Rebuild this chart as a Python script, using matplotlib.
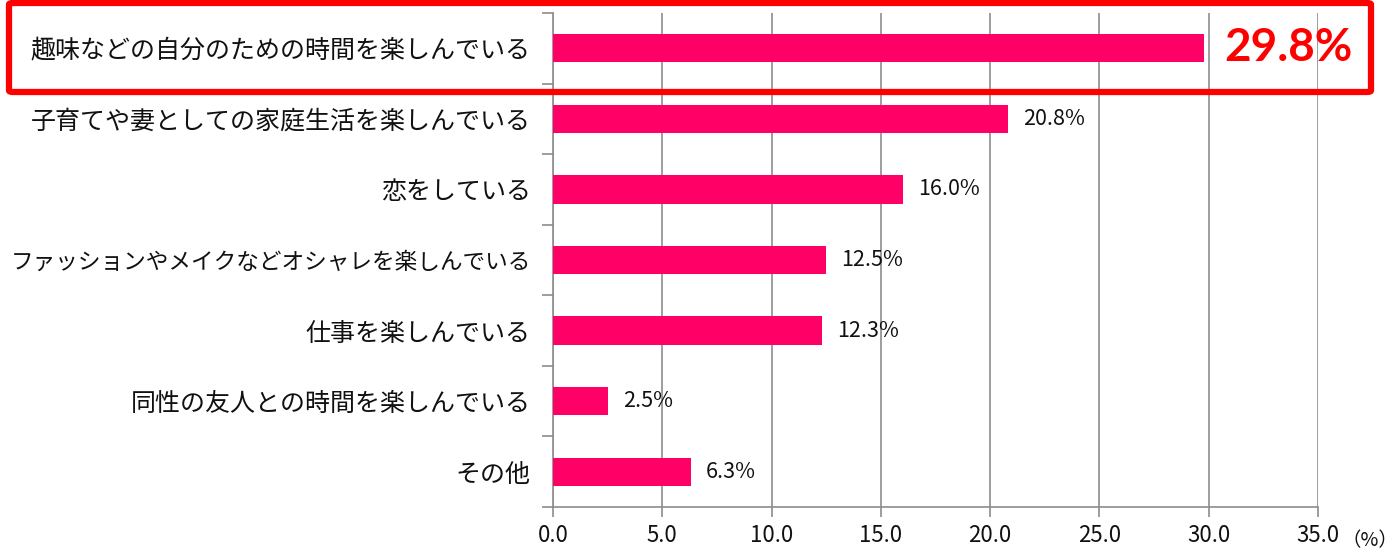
import matplotlib.pyplot as plt
import matplotlib.patches as patches
import numpy as np

plt.rcParams['font.family'] = ['Noto Sans CJK JP', 'DejaVu Sans']

categories = [
    "趣味などの自分のための時間を楽しんでいる",
    "子育てや妻としての家庭生活を楽しんでいる",
    "恋をしている",
    "ファッションやメイクなどオシャレを楽しんでいる",
    "仕事を楽しんでいる",
    "同性の友人との時間を楽しんでいる",
    "その他",
]
values = [29.8, 20.8, 16.0, 12.5, 12.3, 2.5, 6.3]
xticks = [0, 5, 10, 15, 20, 25, 30, 35]

bar_color = "#FF0066"
grid_color = "#8C8C8C"

fig = plt.figure(figsize=(13.96, 5.52), dpi=100)
ax = fig.add_axes([553 / 1396, 1 - 507 / 552, (1318 - 553) / 1396, (507 - 13) / 552])

y = np.arange(len(categories))
ax.barh(y, values, height=0.4, color=bar_color, zorder=3)
ax.set_ylim(len(categories) - 0.5, -0.5)
ax.set_xlim(0, 35)

# y ticks: labels at centers, tick marks at boundaries
ax.set_yticks(y)
ax.set_yticklabels(categories, fontsize=18, color="#111111")
# the long label is narrower in the original (proportional kana)
ax.get_yticklabels()[3].set_fontsize(16.3)
ax.tick_params(axis="y", which="major", length=0, pad=16)
ax.set_yticks(np.arange(-0.5, len(categories)), minor=True)
ax.tick_params(axis="y", which="minor", length=8, width=1.2, color=grid_color, direction="out")

ax.set_xticks(xticks)
ax.set_xticklabels([f"{v:.1f}" for v in xticks], fontsize=16, color="#111111")
ax.tick_params(axis="x", length=7, width=1.2, color=grid_color, pad=5)
ax.text(1.031, -0.068, "（%）", transform=ax.transAxes, fontsize=14, va="center", ha="left",
        color="#111111")

ax.grid(axis="x", color=grid_color, linewidth=1.2, zorder=0)
for s in ["top", "right"]:
    ax.spines[s].set_visible(False)
for s in ["left", "bottom"]:
    ax.spines[s].set_color(grid_color)
    ax.spines[s].set_linewidth(1.2)

# value labels
for i, v in enumerate(values):
    if i == 0:
        ax.annotate(f"{v:.1f}%", (v, i), xytext=(14, 0), textcoords="offset points",
                    va="center", ha="left", fontsize=33, fontweight="bold", color="#FF0000",
                    family=["Lato", "DejaVu Sans"])
    else:
        ax.annotate(f"{v:.1f}%", (v, i), xytext=(11, 0), textcoords="offset points",
                    va="center", ha="left", fontsize=15.5, color="#111111")

# red highlight box around the first row
box = patches.FancyBboxPatch((9 / 1396, 1 - 92 / 552), (1371 - 9) / 1396, 89 / 552,
                             boxstyle="round,pad=0,rounding_size=0.003",
                             transform=fig.transFigure, fill=False,
                             edgecolor="#FF0000", linewidth=4.5, clip_on=False)
fig.patches.append(box)

fig.savefig("out.png", dpi=100)
